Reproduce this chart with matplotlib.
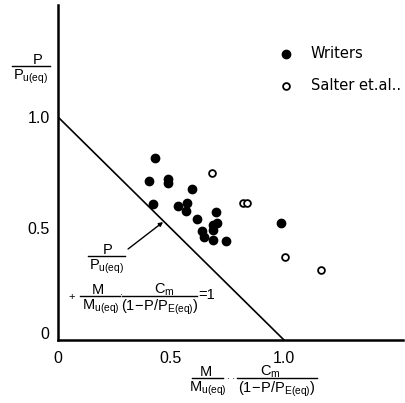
import matplotlib
matplotlib.use("Agg")
import matplotlib.pyplot as plt
from matplotlib.lines import Line2D
import matplotlib.transforms as mtransforms

# ---- data ----
writers_x = [0.429, 0.403, 0.485, 0.485, 0.591, 0.422, 0.532, 0.572, 0.566, 0.699,
             0.614, 0.705, 0.684, 0.684, 0.636, 0.646, 0.684, 0.743, 0.987]
writers_y = [0.815, 0.714, 0.720, 0.703, 0.679, 0.610, 0.602, 0.616, 0.580, 0.576,
             0.543, 0.523, 0.516, 0.493, 0.490, 0.463, 0.448, 0.444, 0.526]
salter_x = [0.680, 0.817, 0.835, 1.004, 1.164]
salter_y = [0.747, 0.616, 0.616, 0.374, 0.314]
line_x = [0.0, 1.0]
line_y = [1.0, 0.0]
xticks = [0.0, 0.5, 1.0]
xticklabels = ["0", "0.5", "1.0"]
yticks = [0.0, 0.5, 1.0]
yticklabels = ["0", "0.5", "1.0"]
legend_labels = ["Writers", "Salter et.al.."]

FONT = "Liberation Sans"
plt.rcParams["font.family"] = [FONT, "DejaVu Sans"]
plt.rcParams["mathtext.fontset"] = "custom"
plt.rcParams["mathtext.rm"] = FONT

W, H = 405, 403
fig = plt.figure(figsize=(W / 100, H / 100), dpi=100)
x0px, y0px = 58, 340
xs, ys = 226.0, 223.0
ax = fig.add_axes([x0px / W, (H - y0px) / H, (W - x0px - 2) / W, (y0px - 5) / H])
ax.set_xlim(0, (W - x0px - 2) / xs)
ax.set_ylim(0, (y0px - 5) / ys)

for s in ["top", "right"]:
    ax.spines[s].set_visible(False)
for s in ["left", "bottom"]:
    ax.spines[s].set_linewidth(1.8)

ax.plot(line_x, line_y, color="black", lw=1.2)
ax.scatter(writers_x, writers_y, s=36, color="black", zorder=3, label=legend_labels[0])
ax.scatter(salter_x, salter_y, s=24, facecolor="white", edgecolor="black",
           linewidths=1.3, zorder=3, label=legend_labels[1])

ax.set_xticks(xticks)
ax.set_xticklabels(xticklabels)
ax.set_yticks(yticks)
ax.set_yticklabels(yticklabels)
ax.tick_params(length=0, labelsize=11.5)
ax.tick_params(axis="x", pad=8)
ax.tick_params(axis="y", pad=6)
# the reference's y "0" label sits a little above the axis
for lab in ax.get_yticklabels():
    if lab.get_text() == "0":
        lab.set_transform(lab.get_transform() +
                          mtransforms.ScaledTranslation(0, 7 / 100, fig.dpi_scale_trans))

ax.legend(loc="upper left", bbox_to_anchor=(0.602, 0.916), frameon=False,
          handlelength=1.0, handletextpad=1.2, labelspacing=1.15,
          prop={"family": "DejaVu Sans", "size": 10.5})

def P(px, py):
    return px / W, 1 - py / H

def txt(px, py, s, fs=10.5, ha="center", va="center"):
    fig.text(*P(px, py), s, fontsize=fs, ha=ha, va=va)

def bar(xa, xb, py):
    (fa, fy), (fb, _) = P(xa, py), P(xb, py)
    fig.add_artist(Line2D([fa, fb], [fy, fy], color="black", lw=1.0,
                          transform=fig.transFigure))

def frac(cx_num, cx_den, xa, xb, ybar, num, den, fs=10.5):
    txt(cx_num, ybar - 2.5, num, fs, va="baseline")
    bar(xa, xb, ybar)
    txt(cx_den, ybar + 2, den, fs, va="top")

PU = r"$\mathregular{P_{u(eq)}}$"
MU = r"$\mathregular{M_{u(eq)}}$"
CM = r"$\mathregular{C_m}$"
DEN = r"$\mathregular{(1\!-\!P/P_{E(eq)})}$"

# y label
frac(37.5, 31, 12, 50, 66, "P", PU)

# annotation
frac(107.5, 107, 88, 125, 256, "P", PU)
ax.annotate("", xy=(0.465, 0.529), xytext=(0.31, 0.408),
            arrowprops=dict(arrowstyle="-|>", color="black", lw=1.0,
                            mutation_scale=6, shrinkA=0, shrinkB=0))
txt(72, 297, "+", 8)
frac(97.5, 100.5, 80, 120, 296, "M", MU)
txt(121, 296, "·", 6)
frac(164, 160, 122, 197, 296, CM, DEN)
txt(198, 295, "=1", 10.5, ha="left")

# x label
frac(205.5, 208, 192, 223, 378, "M", MU)
txt(231, 376, ". .", 7)
frac(270.5, 277, 237, 317, 378, CM, DEN)

fig.savefig("out.png", dpi=100)
